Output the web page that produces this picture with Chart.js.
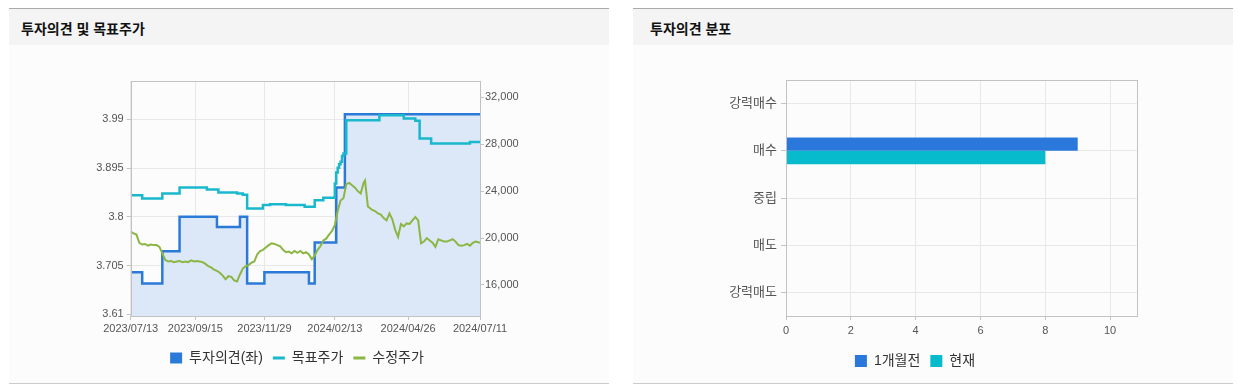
<!DOCTYPE html>
<html lang="ko">
<head>
<meta charset="utf-8">
<title>투자의견 및 목표주가</title>
<script src="https://cdn.jsdelivr.net/npm/chart.js@4.4.1/dist/chart.umd.min.js"></script>
<style>
  html, body { margin: 0; padding: 0; background: #fff; width: 1238px; height: 392px; overflow: hidden;
    font-family: 'Liberation Sans', 'Noto Sans CJK KR', sans-serif; }
  .panel { position: absolute; top: 8px; width: 600px; height: 374px; background: #fcfcfc;
    border-top: 1px solid #aaa; border-bottom: 1px solid #ccc; }
  .panel h2 { margin: 0; height: 36px; line-height: 38px; background: #f4f4f4; font-size: 14px;
    font-weight: bold; color: #111; font-family: 'Noto Sans CJK KR', sans-serif; }
  .panel canvas { position: absolute; left: 1px; top: 36px; }
</style>
</head>
<body>
<div class="panel" style="left:9px">
  <h2 style="padding-left:12px">투자의견 및 목표주가</h2>
  <canvas id="opinionChart" width="599" height="338"></canvas>
</div>
<div class="panel" style="left:633px">
  <h2 style="padding-left:17px">투자의견 분포</h2>
  <canvas id="distChart" width="599" height="338"></canvas>
</div>
<script>
// ---- 투자의견 및 목표주가 (x = 거래일 순번) ----
const xTickIdx = [0, 45, 93, 142, 193, 243];
const xTickLabels = ['2023/07/13', '2023/09/15', '2023/11/29', '2024/02/13', '2024/04/26', '2024/07/11'];
const leftTickLabels = ['3.61', '3.705', '3.8', '3.895', '3.99'];
const rightTickLabels = ['16,000', '20,000', '24,000', '28,000', '32,000'];

// 투자의견 (좌축), 값이 바뀌는 지점만
const opinionIdx = [0, 8, 22, 34, 60, 76, 81, 93, 124, 128, 143, 149, 243];
const opinionVal = [3.692, 3.67, 3.733, 3.8, 3.78, 3.8, 3.67, 3.692, 3.67, 3.75, 3.857, 4.0, 4.0];

// 목표주가 (우축)
const targetIdx = [0, 8, 22, 34, 53, 61, 74, 78, 81, 92, 97, 108, 121, 128, 134, 142, 143, 144, 145, 146, 147, 148, 150, 173, 190, 198, 201, 209, 236, 243];
const targetVal = [23660, 23380, 23800, 24310, 24140, 23890, 23800, 23700, 22530, 22810, 22880, 22810, 22660, 23230, 23430, 24650, 25600, 26000, 26300, 26500, 27000, 27200, 30040, 30470, 30200, 30000, 28480, 28060, 28200, 28200];

// 수정주가 (우축)
const priceIdx = [0, 2, 4, 6, 8, 10, 12, 14, 16, 18, 20, 22, 24, 26, 28, 30, 32, 34, 36, 38, 40, 42, 44, 46, 48, 50,
  52, 54, 56, 58, 60, 62, 64, 66, 68, 70, 72, 74, 76, 78, 80, 82, 84, 86, 88, 90, 92, 94, 96, 98, 100,
  102, 104, 106, 108, 110, 112, 114, 116, 118, 120, 122, 124, 126, 128, 130, 132, 134, 136, 138, 140,
  142, 144, 146, 148, 150, 152, 154, 156, 158, 160, 162, 163, 165, 168, 170, 172, 174, 176, 178, 180,
  182, 184, 186, 188, 190, 192, 194, 196, 198, 200, 202, 204, 206, 208, 210, 212, 214, 216, 218, 220,
  222, 224, 226, 228, 230, 232, 234, 236, 238, 240, 243];
const priceVal = [20550, 20400, 20300, 19600, 19450, 19500, 19350, 19450, 19400, 19400, 19250, 18700, 18150, 18000, 18050, 17950, 18000, 18050, 17950, 18000, 17950, 18100, 18000, 18050, 18000, 17950,
  17800, 17600, 17500, 17300, 17200, 17050, 16800, 16500, 16750, 16700, 16400, 16300, 16900, 17400, 17600, 17700, 17900, 18000, 18600, 18900, 19000, 19200, 19400, 19550, 19500,
  19400, 19300, 19000, 18800, 18850, 18700, 18900, 18750, 18900, 18700, 18800, 18600, 18200, 18500, 19000, 19300, 19800, 19950, 20300, 20600,
  21100, 22300, 23200, 23400, 24600, 24700, 24500, 24300, 24000, 23800, 24700, 24900, 22700, 22400, 22300, 22100, 22000, 21700, 21500, 22100,
  21600, 20700, 20100, 21200, 21000, 21250, 21200, 21500, 21800, 21500, 19550, 19700, 20000, 19800, 19600, 19250, 19900, 19800, 19700, 19700,
  19800, 19900, 19700, 19400, 19350, 19400, 19500, 19350, 19600, 19700, 19600];

// ---- 투자의견 분포 ----
const distCategories = ['강력매수', '매수', '중립', '매도', '강력매도'];
const distPrev = [0, 9, 0, 0, 0];
const distNow = [0, 8, 0, 0, 0];
const distTicks = [0, 2, 4, 6, 8, 10];

Chart.defaults.font.family = "'Liberation Sans', 'Noto Sans CJK KR', sans-serif";
Chart.defaults.font.size = 11;
Chart.defaults.color = '#555';

const toPoints = (xs, ys) => xs.map((x, i) => ({ x, y: ys[i] }));
const GRID = '#e8e8e8';
const TICK = '#c4c4c4';

// 차트 영역 테두리
const frame = {
  id: 'frame',
  afterDatasetsDraw(chart) {
    const { ctx, chartArea: a } = chart;
    ctx.save();
    ctx.strokeStyle = '#c2c2c2';
    ctx.lineWidth = 1;
    ctx.strokeRect(Math.round(a.left) + 0.5, Math.round(a.top) + 0.5,
      Math.round(a.right - a.left), Math.round(a.bottom - a.top));
    ctx.restore();
  }
};

new Chart(document.getElementById('opinionChart'), {
  type: 'line',
  data: {
    datasets: [{
      label: '투자의견(좌)',
      data: toPoints(opinionIdx, opinionVal),
      yAxisID: 'y',
      stepped: true,
      borderColor: '#2c7ad8',
      borderWidth: 2.5,
      backgroundColor: '#dce7f7',
      fill: 'start',
      pointRadius: 0,
      order: 3
    }, {
      label: '목표주가',
      data: toPoints(targetIdx, targetVal),
      yAxisID: 'y1',
      stepped: true,
      borderColor: '#19b8cd',
      borderWidth: 2.5,
      fill: false,
      pointRadius: 0,
      order: 2
    }, {
      label: '수정주가',
      data: toPoints(priceIdx, priceVal),
      yAxisID: 'y1',
      borderColor: '#8bb644',
      borderWidth: 2,
      fill: false,
      pointRadius: 0,
      order: 1
    }]
  },
  options: {
    responsive: false,
    animation: false,
    layout: { padding: { left: 0, right: 25, top: 36, bottom: 8 } },
    plugins: {
      tooltip: { enabled: false },
      legend: {
        position: 'bottom',
        labels: {
          usePointStyle: true,
          pointStyleWidth: 12,
          boxHeight: 11,
          padding: 10,
          color: '#333',
          font: { size: 14 },
          generateLabels: chart => chart.data.datasets.map((ds, i) => ({
            text: ds.label,
            datasetIndex: i,
            fillStyle: ds.borderColor,
            strokeStyle: ds.borderColor,
            lineWidth: i === 0 ? 0 : 3,
            pointStyle: i === 0 ? 'rect' : 'line',
            fontColor: '#333',
            hidden: false
          }))
        }
      }
    },
    scales: {
      x: {
        type: 'linear',
        min: 0,
        max: 243,
        afterBuildTicks: s => { s.ticks = xTickIdx.map(v => ({ value: v })); },
        afterFit: s => { s.height = 25; },
        ticks: {
          autoSkip: false,
          maxRotation: 0,
          padding: 2,
          callback: v => xTickLabels[xTickIdx.indexOf(v)]
        },
        grid: { color: GRID, tickColor: TICK, tickLength: 4 },
        border: { display: false }
      },
      y: {
        position: 'left',
        min: 3.6067,
        max: 4.0646,
        afterBuildTicks: s => { s.ticks = leftTickLabels.map(t => ({ value: parseFloat(t) })); },
        afterFit: s => { s.width = 120.7; },
        ticks: { padding: 3, callback: (v, i) => leftTickLabels[i] },
        grid: { color: GRID, tickColor: TICK, tickLength: 4 },
        border: { display: false }
      },
      y1: {
        position: 'right',
        min: 13357,
        max: 33390,
        afterBuildTicks: s => { s.ticks = rightTickLabels.map(t => ({ value: parseFloat(t.replace(/,/g, '')) })); },
        afterFit: s => { s.width = 104; },
        ticks: { padding: 1, callback: (v, i) => rightTickLabels[i] },
        grid: { drawOnChartArea: false, tickColor: TICK, tickLength: 4 },
        border: { display: false }
      }
    }
  },
  plugins: [frame]
});

new Chart(document.getElementById('distChart'), {
  type: 'bar',
  data: {
    labels: distCategories,
    datasets: [{
      label: '1개월전',
      data: distPrev,
      backgroundColor: '#2a78dc',
      barPercentage: 1,
      categoryPercentage: 0.566
    }, {
      label: '현재',
      data: distNow,
      backgroundColor: '#07bbcd',
      barPercentage: 1,
      categoryPercentage: 0.566
    }]
  },
  options: {
    indexAxis: 'y',
    responsive: false,
    animation: false,
    layout: { padding: { left: 59.3, right: 96.3, top: 35, bottom: 5 } },
    plugins: {
      tooltip: { enabled: false },
      legend: {
        position: 'bottom',
        labels: { boxWidth: 12, boxHeight: 12, padding: 10, color: '#333', font: { size: 14 } }
      }
    },
    scales: {
      x: {
        min: 0,
        max: 10.82,
        afterBuildTicks: s => { s.ticks = distTicks.map(v => ({ value: v })); },
        afterFit: s => { s.height = 28; },
        ticks: { padding: 4 },
        grid: { color: GRID, tickColor: TICK, tickLength: 4 },
        border: { display: false }
      },
      y: {
        afterFit: s => { s.width = 92.7; },
        ticks: { padding: 4, color: '#555', font: { size: 13 } },
        grid: { offset: false, color: GRID, tickColor: TICK, tickLength: 5 },
        border: { display: false }
      }
    }
  },
  plugins: [frame]
});
</script>
</body>
</html>
